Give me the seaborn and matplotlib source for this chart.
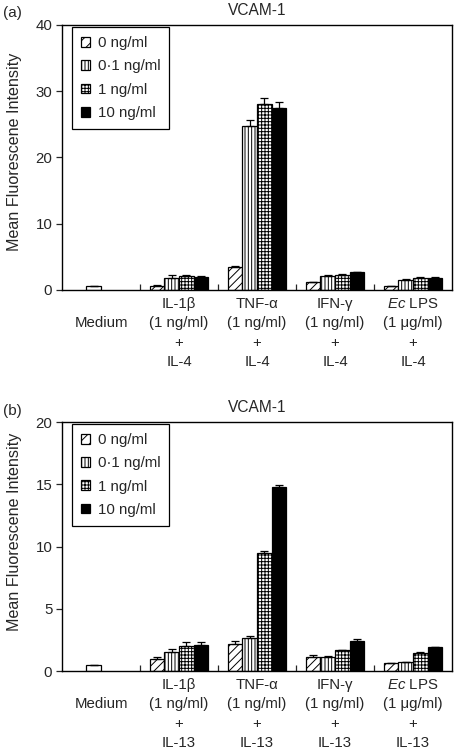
import numpy as np
import pandas as pd
import seaborn as sns
import matplotlib.pyplot as plt
from matplotlib.patches import Patch

# categories and dose levels
stimuli = ["Medium", "IL-1β", "TNF-α", "IFN-γ", "Ec LPS"]
doses = ["0 ng/ml", "0·1 ng/ml", "1 ng/ml", "10 ng/ml"]

# panel (a): VCAM-1 with IL-4, values per dose for IL-1β, TNF-α, IFN-γ, Ec LPS
a_medium = 0.55
a_medium_err = 0.05
a_d0 = [0.65, 3.4, 1.15, 0.55]
a_d01 = [1.85, 24.7, 2.05, 1.55]
a_d1 = [2.05, 28.1, 2.25, 1.75]
a_d10 = [2.0, 27.4, 2.65, 1.85]
a_e0 = [0.05, 0.15, 0.1, 0.1]
a_e01 = [0.35, 0.95, 0.15, 0.15]
a_e1 = [0.15, 0.95, 0.1, 0.15]
a_e10 = [0.15, 0.9, 0.1, 0.05]

# panel (b): VCAM-1 with IL-13
b_medium = 0.45
b_medium_err = 0.05
b_d0 = [0.95, 2.2, 1.1, 0.62]
b_d01 = [1.55, 2.65, 1.15, 0.7]
b_d1 = [2.0, 9.45, 1.65, 1.45]
b_d10 = [2.1, 14.75, 2.4, 1.9]
b_e0 = [0.2, 0.2, 0.2, 0.05]
b_e01 = [0.18, 0.2, 0.05, 0.05]
b_e1 = [0.3, 0.22, 0.05, 0.05]
b_e10 = [0.2, 0.2, 0.18, 0.05]

a_ticks = [0, 10, 20, 30, 40]
b_ticks = [0, 5, 10, 15, 20]

hatches = ["////", "|||||", "+++++", ""]
fills = ["white", "white", "white", "black"]


def make_frame(medium, medium_err, vals, errs):
    rows = [("Medium", doses[1], medium, medium_err)]
    for d, v, e in zip(doses, vals, errs):
        for s, vv, ee in zip(stimuli[1:], v, e):
            rows.append((s, d, vv, ee))
    return pd.DataFrame(rows, columns=["stim", "dose", "value", "err"])


def tick_labels(partner):
    labs = ["\nMedium"]
    for s in stimuli[1:]:
        unit = "(1 μg/ml)" if s == "Ec LPS" else "(1 ng/ml)"
        name = r"$\mathit{Ec}$ LPS" if s == "Ec LPS" else s
        labs.append(name + "\n" + unit + "\n+\n" + partner)
    return labs


def draw_panel(ax, df, ymax, yticks, partner, tag, label_y):
    sns.barplot(data=df, x="stim", y="value", hue="dose", order=stimuli,
                hue_order=doses, palette=fills, width=0.75, gap=0,
                errorbar=None, edgecolor="black", linewidth=0.9,
                legend=False, ax=ax)
    bar_groups = list(ax.containers)
    for i, cont in enumerate(bar_groups):
        for bar in list(cont):
            if bar is None:
                continue
            cx = bar.get_x() + bar.get_width() / 2
            cat = int(round(cx))
            if cat == 0:
                bar.set_hatch("")
                bar.set_facecolor("white")
            else:
                bar.set_hatch(hatches[i])
            row = df[(df["stim"] == stimuli[cat]) & (df["dose"] == doses[i])]
            if len(row):
                h = row["value"].iloc[0]
                e = row["err"].iloc[0]
                ax.errorbar(cx, h, yerr=[[0], [e]], fmt="none", ecolor="black",
                            elinewidth=0.9, capsize=3, capthick=0.9, zorder=3)
    ax.set_xlim(-0.5, 4.5)
    ax.set_ylim(0, ymax)
    ax.set_yticks(yticks)
    ax.set_xticks(range(5))
    ax.set_xticklabels(tick_labels(partner), linespacing=1.5, fontsize=10.8)
    ax.set_xticks([0.5, 1.5, 2.5, 3.5], minor=True)
    ax.tick_params(axis="x", which="major", length=0, pad=5)
    ax.tick_params(axis="x", which="minor", length=4, direction="in", width=0.9)
    ax.tick_params(axis="y", length=4, direction="out", width=0.9, labelsize=10.8, pad=3)
    ax.set_xlabel("")
    ax.set_ylabel("Mean Fluorescene Intensity", fontsize=11.6)
    ax.yaxis.set_label_coords(-0.123, label_y)
    ax.yaxis.label.set_va("center")
    ax.set_title("VCAM-1", fontsize=11.2, pad=7)
    for sp in ax.spines.values():
        sp.set_visible(True)
        sp.set_linewidth(1.0)
        sp.set_color("black")
    handles = [Patch(facecolor=f, edgecolor="black", hatch=h, linewidth=0.9)
               for f, h in zip(fills, ["///", "|||||", "+++++", ""])]
    leg = ax.legend(handles, doses, loc="upper left", bbox_to_anchor=(0.025, 0.992),
                    borderaxespad=0, fontsize=10.8, handlelength=0.62, handleheight=0.62,
                    handletextpad=0.5, labelspacing=0.62, borderpad=0.6,
                    fancybox=False, framealpha=1, edgecolor="black")
    leg.get_frame().set_linewidth(0.9)
    ax.get_figure().text(0.006, ax.get_position().y1 + 0.006, tag, fontsize=11,
                         va="bottom", ha="left")


sns.set_style("ticks")
plt.rcParams["font.family"] = ["Liberation Sans", "DejaVu Sans"]
plt.rcParams["mathtext.fontset"] = "custom"
plt.rcParams["mathtext.it"] = "Liberation Sans:italic"
plt.rcParams["mathtext.rm"] = "Liberation Sans"
plt.rcParams["hatch.linewidth"] = 0.7

fig = plt.figure(figsize=(4.54, 7.52), dpi=100)
ax_a = fig.add_axes([0.1366, 0.6144, 0.859, 0.3524])
ax_b = fig.add_axes([0.1366, 0.1077, 0.859, 0.3311])

df_a = make_frame(a_medium, a_medium_err, [a_d0, a_d01, a_d1, a_d10], [a_e0, a_e01, a_e1, a_e10])
df_b = make_frame(b_medium, b_medium_err, [b_d0, b_d01, b_d1, b_d10], [b_e0, b_e01, b_e1, b_e10])

draw_panel(ax_a, df_a, 40, a_ticks, "IL-4", "(a)", 0.52)
draw_panel(ax_b, df_b, 20, b_ticks, "IL-13", "(b)", 0.56)

fig.savefig("out.png", dpi=100)
